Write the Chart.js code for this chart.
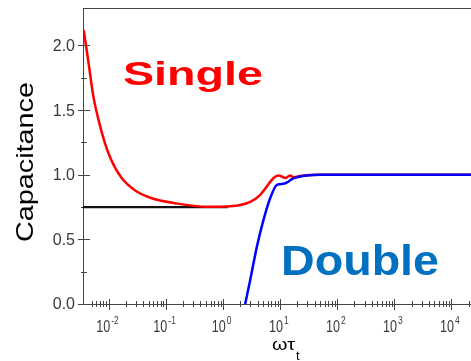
<!DOCTYPE html>
<html>
<head>
<meta charset="utf-8">
<script src="https://cdn.jsdelivr.net/npm/chart.js@4.4.1/dist/chart.umd.min.js"></script>
<style>
  body { margin: 0; background: #fff; }
  canvas { display: block; }
</style>
</head>
<body>
<canvas id="capChart" width="471" height="361"></canvas>
<script>
// data (x = omega*tau_t, log scale)
var singleX = [0.0036, 0.0043, 0.0053, 0.0065, 0.0084, 0.0108, 0.0163, 0.0283, 0.0546, 0.142, 0.52, 1.33, 2.98, 4.46, 5.84, 7.63, 9.33, 12.2, 15.0, 17.1, 25.3, 50, 22000];
var singleY = [2.12, 1.89, 1.61, 1.43, 1.25, 1.12, 0.98, 0.88, 0.82, 0.78, 0.752, 0.756, 0.79, 0.845, 0.91, 0.975, 0.995, 0.975, 0.995, 0.98, 0.995, 1.0, 1.0];
var doubleX = [2.43, 2.98, 3.9, 5.09, 6.68, 8.75, 11.4, 14.0, 16.0, 19.6, 29.4, 50, 22000];
var doubleY = [0, 0.186, 0.444, 0.651, 0.82, 0.922, 0.93, 0.948, 0.966, 0.98, 0.995, 1.0, 1.0];
var baseX = [0.0035, 1.2];
var baseY = [0.75, 0.75];

var xMin = 0.0035, xMax = 22000;
var yMin = 0, yMax = 2.29;

function pts(xs, ys) {
    return xs.map(function (v, i) { return { x: v, y: ys[i] }; });
}

function isDecade(v) {
    var l = Math.log10(v);
    return Math.abs(l - Math.round(l)) < 1e-6;
}
function isWhole(v) {
    var e = Math.floor(Math.log10(v) + 1e-9);
    var s = v / Math.pow(10, e);
    return Math.abs(s - Math.round(s)) < 1e-6;
}

// draws text stretched to a given width
function fitText(ctx, txt, x, y, w) {
    var m = ctx.measureText(txt).width;
    ctx.save();
    ctx.translate(x, y);
    ctx.scale(w / m, 1);
    ctx.fillText(txt, 0, 0);
    ctx.restore();
}

var FONT = '"Liberation Sans", Arial, sans-serif';

var decor = {
    id: 'decor',
    beforeDatasetsDraw: function (chart) {
        var ctx = chart.ctx, a = chart.chartArea;
        var xs = chart.scales.x, ys = chart.scales.y;
        ctx.save();
        ctx.strokeStyle = '#444';
        ctx.lineWidth = 1;
        ctx.beginPath();
        ctx.moveTo(a.left, a.top + 0.5);
        ctx.lineTo(a.right, a.top + 0.5);
        xs.ticks.forEach(function (t) {
            if (!isWhole(t.value)) return;
            var px = Math.round(xs.getPixelForValue(t.value)) + 0.5;
            var major = isDecade(t.value);
            ctx.moveTo(px, a.bottom - (major ? 5 : 3));
            ctx.lineTo(px, a.bottom + (major ? 6 : 3));
        });
        ys.ticks.forEach(function (t) {
            var q = t.value / 0.25;
            if (Math.abs(q - Math.round(q)) > 1e-6) return;
            var py = Math.round(ys.getPixelForValue(t.value)) + 0.5;
            var major = Math.round(q) % 2 === 0;
            ctx.moveTo(a.left - (major ? 5 : 2), py);
            ctx.lineTo(a.left + (major ? 7 : 4), py);
        });
        ctx.stroke();

        // tick labels
        ctx.fillStyle = '#3a3a3a';
        ctx.textBaseline = 'alphabetic';
        ctx.textAlign = 'left';
        xs.ticks.forEach(function (t) {
            if (!isDecade(t.value)) return;
            var px = xs.getPixelForValue(t.value);
            var e = String(Math.round(Math.log10(t.value)));
            ctx.font = '10px ' + FONT;
            var ew = ctx.measureText(e).width * 0.85;
            var total = 14 + 1 + ew;
            var left = px - 1.5 - total / 2;
            ctx.font = '16px ' + FONT;
            fitText(ctx, '10', left, a.bottom + 28, 14);
            ctx.font = '10px ' + FONT;
            fitText(ctx, e, left + 15, a.bottom + 20, ew);
        });
        ctx.font = '16px ' + FONT;
        ctx.textAlign = 'right';
        ctx.textBaseline = 'middle';
        ys.ticks.forEach(function (t) {
            var q = t.value / 0.5;
            if (Math.abs(q - Math.round(q)) > 1e-6) return;
            ctx.fillText(t.value.toFixed(1), a.left - 8, ys.getPixelForValue(t.value) + 1);
        });
        ctx.restore();
    },
    afterDraw: function (chart) {
        var ctx = chart.ctx;
        ctx.save();
        ctx.textBaseline = 'alphabetic';
        ctx.textAlign = 'left';

        ctx.fillStyle = '#ff0000';
        ctx.font = 'bold 34px ' + FONT;
        fitText(ctx, 'Single', 123, 85, 140);

        ctx.fillStyle = '#0070c0';
        ctx.font = 'bold 42px ' + FONT;
        fitText(ctx, 'Double', 281, 275, 158);

        // axis titles
        ctx.fillStyle = '#000';
        ctx.font = '16px ' + FONT;
        fitText(ctx, '\u03c9\u03c4', 272, 350, 23);
        ctx.font = '13px ' + FONT;
        ctx.fillText('t', 296, 360);

        ctx.font = '24px ' + FONT;
        ctx.save();
        ctx.translate(33, 242);
        ctx.rotate(-Math.PI / 2);
        fitText(ctx, 'Capacitance', 0, 0, 160);
        ctx.restore();

        ctx.restore();
    }
};

var ctx = document.getElementById('capChart');
var myChart = new Chart(ctx, {
    type: 'line',
    data: {
        datasets: [
            {
                label: 'Double',
                data: pts(doubleX, doubleY),
                borderColor: '#0000ff',
                borderWidth: 2.5,
                pointRadius: 0,
                cubicInterpolationMode: 'monotone',
                fill: false
            },
            {
                label: 'Single',
                data: pts(singleX, singleY),
                borderColor: '#ff0000',
                borderWidth: 2.5,
                pointRadius: 0,
                cubicInterpolationMode: 'monotone',
                fill: false
            },
            {
                label: 'Reference',
                data: pts(baseX, baseY),
                borderColor: '#111111',
                borderWidth: 2.2,
                pointRadius: 0,
                fill: false
            }
        ]
    },
    options: {
        responsive: false,
        animation: false,
        events: [],
        layout: { padding: { top: 8, right: 0, left: 0, bottom: 0 } },
        plugins: {
            legend: { display: false },
            tooltip: { enabled: false }
        },
        scales: {
            x: {
                type: 'logarithmic',
                min: xMin,
                max: xMax,
                grid: { display: false },
                border: { display: true, color: '#444', width: 1 },
                ticks: { display: false, autoSkip: false },
                afterFit: function (s) { s.height = 57; }
            },
            y: {
                min: yMin,
                max: yMax,
                grid: { display: false },
                border: { display: true, color: '#444', width: 1 },
                ticks: { display: false, stepSize: 0.25, autoSkip: false },
                afterFit: function (s) { s.width = 83; }
            }
        }
    },
    plugins: [decor]
});
</script>
</body>
</html>
